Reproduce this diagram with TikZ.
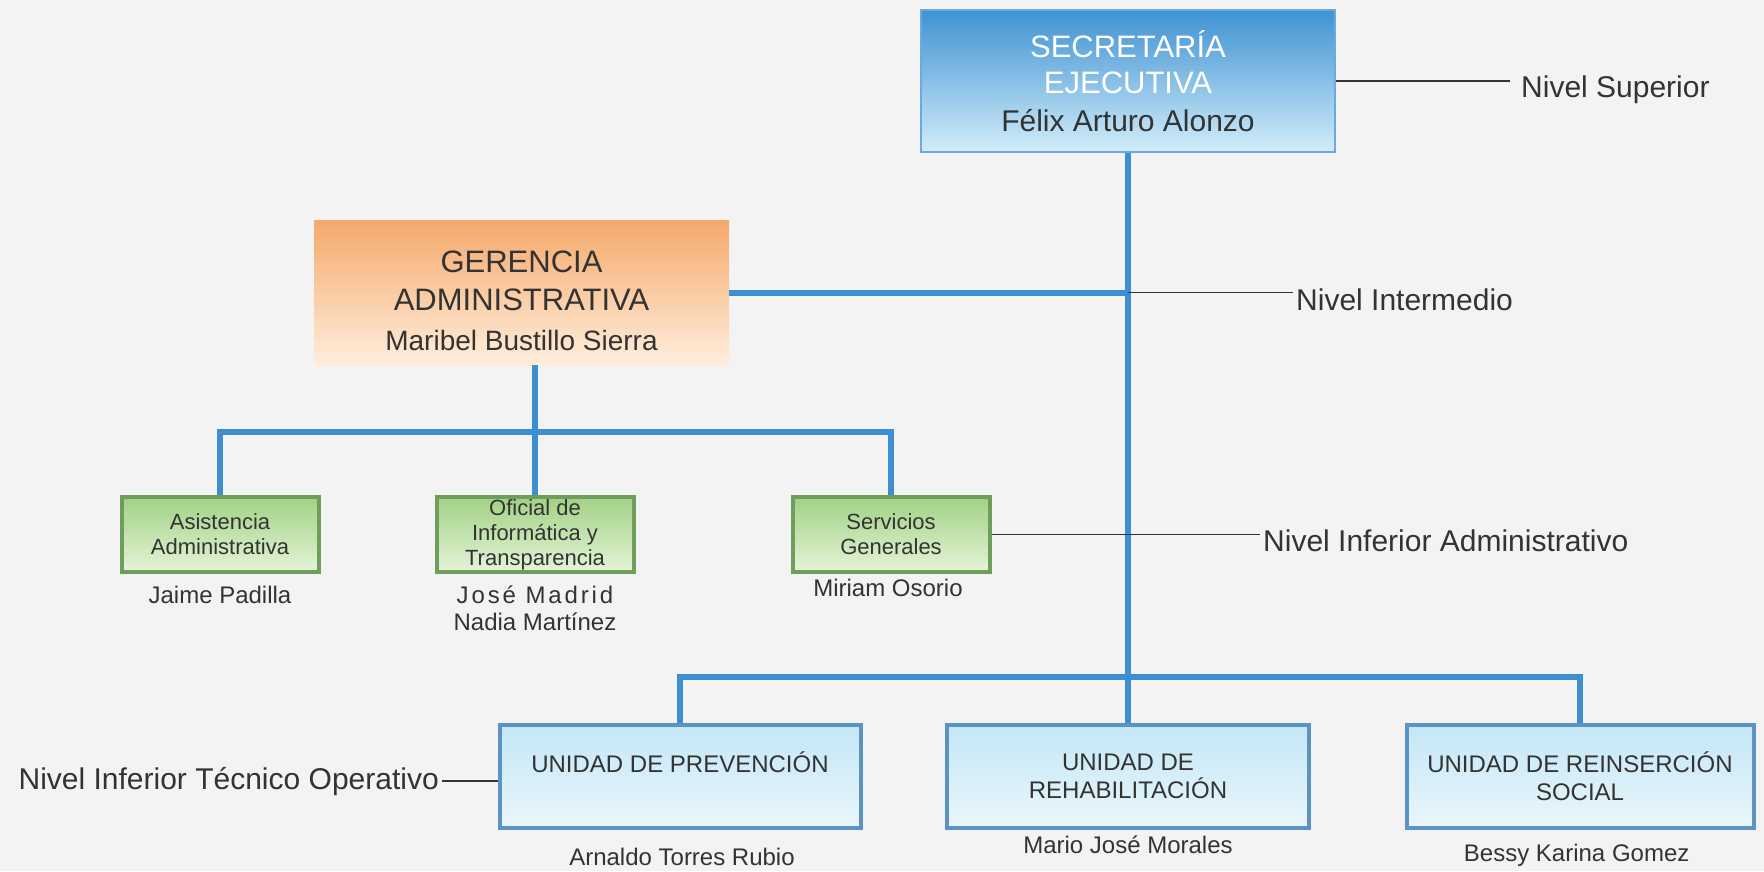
\documentclass[tikz,border=0pt]{standalone}
\usepackage{fontspec}
\setmainfont{Liberation Sans}
\newfontfamily\spacedfont[LetterSpace=12]{Liberation Sans}

\definecolor{paper}{HTML}{F3F3F3}
\definecolor{ink}{HTML}{333333}
\definecolor{connblue}{HTML}{3D8ED3}
\definecolor{secedge}{HTML}{6AAAE0}
\definecolor{sectop}{HTML}{3F92D3}
\definecolor{secbot}{HTML}{D2EDF9}
\definecolor{gertop}{HTML}{F5A96B}
\definecolor{gerbot}{HTML}{FEEEDC}
\definecolor{greenedge}{HTML}{6E9D5C}
\definecolor{greentop}{HTML}{A2D185}
\definecolor{greenbot}{HTML}{E4F4D8}
\definecolor{unitedge}{HTML}{5B94C3}
\definecolor{unittop}{HTML}{C3E7F6}
\definecolor{unitbot}{HTML}{EAF6FB}

\begin{document}
\begin{tikzpicture}[
        x=1pt, y=-1pt,
        every node/.style={text=ink, inner sep=0pt, align=center},
        conn/.style={draw=connblue, line width=6pt},
        lvl/.style={draw=ink, line width=1.5pt},
        lvltext/.style={font=\fontsize{30}{36}\selectfont, inner xsep=3pt},
        secbox/.style={draw=secedge, line width=1.5pt, top color=sectop, bottom color=secbot,
            minimum width=414pt, minimum height=142pt, font=\fontsize{31}{36}\selectfont},
        gerbox/.style={top color=gertop, bottom color=gerbot,
            minimum width=415pt, minimum height=145pt, font=\fontsize{31}{38}\selectfont},
        greenbox/.style={draw=greenedge, line width=4pt, top color=greentop, bottom color=greenbot,
            minimum width=197pt, minimum height=75pt, font=\fontsize{22}{25}\selectfont},
        unitbox/.style={draw=unitedge, line width=4pt, top color=unittop, bottom color=unitbot,
            minimum height=103pt, font=\fontsize{24}{28}\selectfont},
        person/.style={font=\fontsize{24}{27}\selectfont},
    ]
        \fill[paper] (0,0) rectangle (1764,871);
        \useasboundingbox (0,0) rectangle (1764,871);

        % top levels
        \node[secbox] (sec) at (1128,81) {\textcolor{white}{SECRETARÍA}\\\textcolor{white}{EJECUTIVA}\\[2pt]{\fontsize{30}{36}\selectfont Félix Arturo Alonzo}};
        \node[gerbox] (ger) at (521.5,292.5) {\rule{0pt}{38pt}GERENCIA\\ADMINISTRATIVA\\[2pt]{\fontsize{28}{34}\selectfont Maribel Bustillo Sierra}};

        % administrative units
        \node[greenbox] (asi) at (220,534.5) {Asistencia\\Administrativa};
        \node[greenbox] (ofi) at (535,534.5) {Oficial de\\Informática y\\Transparencia};
        \node[greenbox] (serv) at (891,534.5) {Servicios\\Generales};

        % technical units
        \node[unitbox, minimum width=361pt] (prev) at (680,776.5) {UNIDAD DE PREVENCIÓN\\\mbox{}};
        \node[unitbox, minimum width=362pt] (rehab) at (1128,776.5) {UNIDAD DE\\REHABILITACIÓN};
        \node[unitbox, minimum width=347pt] (reins) at (1580,776.5) {UNIDAD DE REINSERCIÓN\\SOCIAL};

        % names below the boxes
        \foreach \px/\py/\pname/\ptext in {
            220/595/jpad/Jaime Padilla,
            888/588/mos/Miriam Osorio,
            682/857/atr/Arnaldo Torres Rubio,
            1128/845/mjm/Mario José Morales,
            1580/855/bkg/Bessy Karina Gomez
        }
        {
            \node[person] (\pname) at (\px,\py) {\ptext};
        }
        \node[person] (jmad) at (535,608) {{\spacedfont José Madrid}\\Nadia Martínez};

        % levels
        \node[lvltext, anchor=base west, inner xsep=11pt] (sup) at (1510,97) {Nivel Superior};
        \node[lvltext, anchor=base west] (inter) at (1293,310) {Nivel Intermedio};
        \node[lvltext, anchor=base west] (infadm) at (1260,551) {Nivel Inferior Administrativo};
        \node[lvltext, anchor=base east] (inftec) at (442,789) {Nivel Inferior Técnico Operativo};

        % connectors
        \coordinate (gbar) at (535,432);
        \coordinate (ubar) at (1128,677);
        \draw[conn] (sec.south) -- (rehab.north);
        \draw[conn] (ger.east) -- (ger.east -| sec.south);
        \draw[conn] (ger.south -| ofi.north) -- (ofi.north);
        \draw[conn] (asi.north) |- (gbar) -| (serv.north);
        \draw[conn] (prev.north) |- (ubar) -| (reins.north);

        \draw[lvl] (sec.east) -- (sec.east -| sup.west);
        \draw[lvl] (ger.east -| sec.south) -- (ger.east -| inter.west);
        \draw[lvl] (serv.east) -- (serv.east -| infadm.west);
        \draw[lvl] (inftec.east) -- (inftec.east -| prev.west);

    \end{tikzpicture}
\end{document}
